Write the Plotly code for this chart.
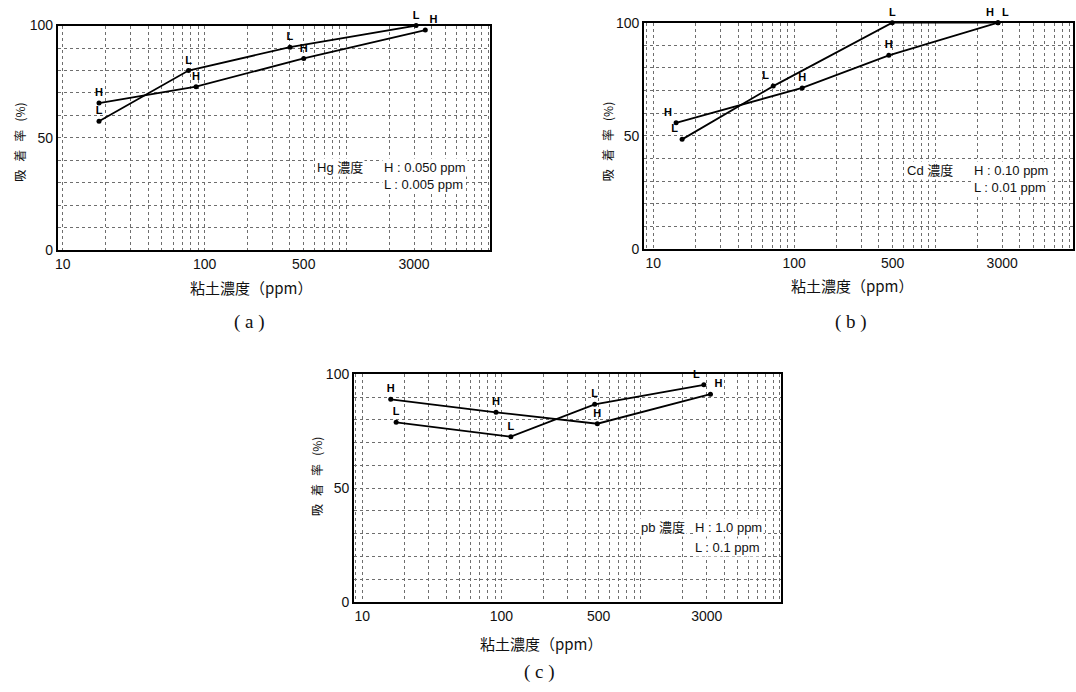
import plotly.graph_objects as go

# Clay concentration (ppm) and adsorption ratio (%) for each metal
hg_clay_h = [18, 87, 500, 3600]
hg_ads_h = [65.5, 72.8, 85.4, 98.0]
hg_clay_l = [18, 77, 400, 3100]
hg_ads_l = [57.4, 80.0, 90.4, 100.0]

cd_clay_h = [14.5, 114, 470, 2800]
cd_ads_h = [55.8, 71.2, 85.6, 100.0]
cd_clay_l = [16, 71, 497, 2800]
cd_ads_l = [48.5, 72.0, 100.0, 100.0]

pb_clay_h = [16, 91.5, 490, 3190]
pb_ads_h = [89.0, 83.3, 78.3, 91.3]
pb_clay_l = [17.5, 117, 469, 2860]
pb_ads_l = [78.9, 72.6, 86.8, 95.4]

x_ticks = [10, 100, 500, 3000]
x_tick_text = ["10", "100", "500", "3000"]
y_ticks = [0, 50, 100]
y_tick_text = ["0", "50", "100"]

W, H = 1076, 692
SANS = "Liberation Sans, Noto Sans CJK JP, sans-serif"
CJK = "Noto Sans CJK JP, sans-serif"
SERIF = "Liberation Serif, DejaVu Serif, serif"


def px_x(v):
    return v / W


def px_y(v):
    return 1 - v / H


fig = go.Figure()


def add_pair(idx, xh, yh, xl, yl, pos_h, pos_l):
    xa = "x" if idx == 1 else f"x{idx}"
    ya = "y" if idx == 1 else f"y{idx}"
    for xs, ys, lab, pos in ((xh, yh, "H", pos_h), (xl, yl, "L", pos_l)):
        fig.add_trace(go.Scatter(
            x=xs, y=ys, xaxis=xa, yaxis=ya,
            mode="lines+markers+text",
            text=[f"<b>{lab}</b>"] * len(xs), textposition=pos,
            textfont=dict(family=SANS, size=11, color="#000000"),
            line=dict(color="#000000", width=1.8),
            marker=dict(color="#000000", size=5),
            cliponaxis=False, showlegend=False, hoverinfo="skip",
        ))


add_pair(1, hg_clay_h, hg_ads_h, hg_clay_l, hg_ads_l,
         ["top center", "top center", "top center", "top right"],
         ["top center", "top center", "top center", "top center"])
add_pair(2, cd_clay_h, cd_ads_h, cd_clay_l, cd_ads_l,
         ["top left", "top center", "top center", "top left"],
         ["top left", "top left", "top center", "top right"])
add_pair(3, pb_clay_h, pb_ads_h, pb_clay_l, pb_ads_l,
         ["top center", "top center", "top center", "top right"],
         ["top center", "top center", "top center", "top left"])

grid = dict(showgrid=True, gridcolor="#6e6e6e", griddash="dot", gridwidth=1)

# plot-area boxes in pixels: (left, right, top, bottom), plus log10 x-range
panels = [
    ((55, 488, 18, 248), [0.965, 4.01]),
    ((643, 1073, 15, 247), [0.935, 3.98]),
    ((352, 780, 375, 608), [0.94, 4.01]),
]

layout = dict(
    width=W, height=H, margin=dict(l=0, r=0, t=0, b=0),
    paper_bgcolor="white", plot_bgcolor="white",
    font=dict(family=SANS, color="#111"),
)
for i, ((l, r, t, b), xr) in enumerate(panels, start=1):
    suf = "" if i == 1 else str(i)
    layout[f"xaxis{suf}"] = dict(
        type="log", range=xr, domain=[px_x(l), px_x(r)],
        anchor=f"y{suf}",
        tickmode="array", tickvals=x_ticks, ticktext=x_tick_text,
        ticks="", tickfont=dict(family=SANS, size=14, color="#111"),
        showline=True, mirror=True, linecolor="black", linewidth=2,
        zeroline=False, **grid,
        minor=dict(dtick="D1", ticks="", **grid),
    )
    layout[f"yaxis{suf}"] = dict(
        range=[0, 100], domain=[px_y(b), px_y(t)],
        anchor=f"x{suf}",
        tickmode="array", tickvals=y_ticks, ticktext=y_tick_text,
        ticks="", tickfont=dict(family=SANS, size=14, color="#111"),
        showline=True, mirror=True, linecolor="black", linewidth=2,
        zeroline=False, **grid,
        minor=dict(dtick=10, ticks="", **grid),
    )

fig.update_layout(**layout)


def note(x, y, text, size=12, anchor="left", font=SANS, bg="white"):
    fig.add_annotation(
        x=px_x(x), y=px_y(y), xref="paper", yref="paper",
        text=text, showarrow=False, xanchor=anchor, yanchor="middle",
        font=dict(family=font, size=size, color="#111"),
        bgcolor=bg, borderpad=1,
    )


# concentration notes inside each panel
note(313, 163, "Hg 濃度", size=13)
note(380, 163, "H : 0.050 ppm", size=13)
note(380, 181, "L : 0.005 ppm", size=13)

note(905, 166, "Cd 濃度", size=13)
note(972, 166, "H : 0.10 ppm", size=13)
note(972, 184, "L : 0.01 ppm", size=13)

note(638, 532, "pb 濃度", size=13)
note(692, 532, "H : 1.0 ppm", size=13)
note(692, 552, "L : 0.1 ppm", size=13)

# axis titles and panel captions
gap = "&nbsp;" * 3
y_title = f"吸{gap}着{gap}率{gap}(%)"
for cx, cy in ((17, 137), (607, 137), (315, 480)):
    fig.add_annotation(
        x=px_x(cx), y=px_y(cy), xref="paper", yref="paper",
        xanchor="center", yanchor="middle",
        text=y_title, textangle=-90, showarrow=False,
        font=dict(family=CJK, size=12, color="#111"),
    )

for cx, cy, cap, capy in ((249, 286, "( a )", 321),
                          (852, 284, "( b )", 321),
                          (540, 651, "( c )", 680)):
    note(cx, cy, "粘土濃度（ppm）", size=15, anchor="center", font=CJK, bg=None)
    note(cx - 2, capy, cap, size=19, anchor="center", font=SERIF, bg=None)

fig.write_html("out.html")
